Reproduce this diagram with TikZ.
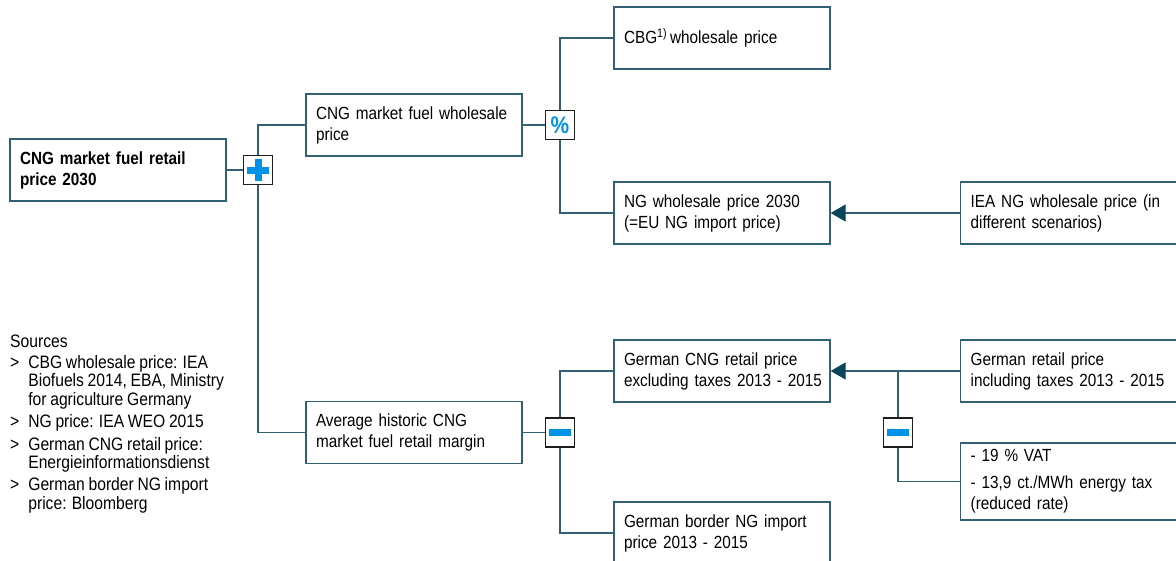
\documentclass[tikz,border=0pt]{standalone}
\usepackage{fontspec}
\setmainfont{Liberation Sans}[FakeStretch=0.87, WordSpace=0.85]
\usetikzlibrary{arrows.meta}
\definecolor{linec}{RGB}{50,96,117}
\definecolor{arrc}{RGB}{12,68,90}
\definecolor{opblue}{RGB}{0,146,230}
\definecolor{opframe}{RGB}{30,30,30}
\begin{document}
\begin{tikzpicture}[x=1pt,y=-1pt,
  every node/.style={font=\fontsize{17.6}{21}\selectfont},
  box/.style={draw=linec, line width=1.3pt, fill=white, text width=196pt,
    inner xsep=10pt, inner ysep=0pt, minimum height=62pt, align=left},
  rbox/.style={box, text width=206pt, anchor=west},
  opbox/.style={draw=opframe, line width=1.4pt, fill=white, minimum size=29pt, inner sep=0pt},
  conn/.style={draw=linec, line width=1.3pt},
  tip/.style={-{Triangle[length=15pt,width=17pt,color=arrc]}},
  opsym/.style={fill=opblue}
]
\useasboundingbox (0,0) rectangle (1176,560);
\clip (0,0) rectangle (1176,560);

% boxes
\node[box] (root) at (118,170) {\bfseries CNG market fuel retail\\price 2030};
\node[box] (cngw) at (414,125) {CNG market fuel wholesale\\price};
\node[box] (avg) at (414,432.5) {Average historic CNG\\market fuel retail margin};
\node[box] (cbg) at (722,38) {CBG\textsuperscript{1)}\,wholesale price};
\node[box] (ngw) at (722,213) {NG wholesale price 2030\\(=EU NG import price)};
\node[box] (excl) at (722,371) {German CNG retail price\\\mbox{excluding taxes 2013 - 2015}};
\node[box] (border) at (722,533) {German border NG import\\price 2013 - 2015};
\node[rbox] (iea) at (960,213) {IEA NG wholesale price (in\\different scenarios)};
\node[rbox] (incl) at (960,371) {German retail price\\including taxes 2013 - 2015};
\node[rbox, minimum height=77pt] (vat) at (960,481.5) {- 19 \% VAT\\[6pt]- 13,9 ct./MWh energy tax\\(reduced rate)};

% operator boxes
\node[opbox] (plus) at (258,170) {};
\node[opbox] (pct) at (560,125) {};
\node[opbox] (minA) at (560,432.5) {};
\node[opbox] (minB) at (898,432.5) {};

% connectors
\draw[conn] (root.east) -- (plus.west);
\draw[conn] (plus.north) |- (cngw.west);
\draw[conn] (plus.south) |- (avg.west);
\draw[conn] (cngw.east) -- (pct.west);
\draw[conn] (pct.north) |- (cbg.west);
\draw[conn] (pct.south) |- (ngw.west);
\draw[conn] (avg.east) -- (minA.west);
\draw[conn] (minA.north) |- (excl.west);
\draw[conn] (minA.south) |- (border.west);
\draw[conn, tip] (iea.west) -- (ngw.east);
\draw[conn, tip] (incl.west) -- (excl.east);
\coordinate (br) at (minB.north |- incl.west);
\draw[conn] (br) -- (minB.north);
\draw[conn] (minB.south) |- (vat.west);

% redraw operator boxes on top with symbols
\node[opbox] at (plus) {};
\node[opbox] at (pct) {\color{opblue}\fontsize{24}{24}\selectfont\bfseries\%};
\node[opbox] at (minA) {};
\node[opbox] at (minB) {};
\fill[opsym] (plus.center) ++(-11,-3.5) rectangle ++(22,7);
\fill[opsym] (plus.center) ++(-3.5,-11) rectangle ++(7,22);
\fill[opsym] (minA.center) ++(-11,-3.5) rectangle ++(22,7);
\fill[opsym] (minB.center) ++(-11,-3.5) rectangle ++(22,7);

% sources
\node[anchor=north west, inner sep=0pt, align=left,
  font=\fontsize{18}{18}\selectfont] (src) at (10,335) {%
  \begin{tabular}{@{}l@{\hspace{9pt}}l@{}}
  \multicolumn{2}{@{}l@{}}{Sources}\\[2pt]
  > & CBG wholesale price: IEA\\
    & Biofuels 2014, EBA, Ministry\\
    & for agriculture Germany\\[4pt]
  > & NG price: IEA WEO 2015\\[4pt]
  > & German CNG retail price:\\
    & Energieinformationsdienst\\[4pt]
  > & German border NG import\\
    & price: Bloomberg
  \end{tabular}};
\end{tikzpicture}
\end{document}
